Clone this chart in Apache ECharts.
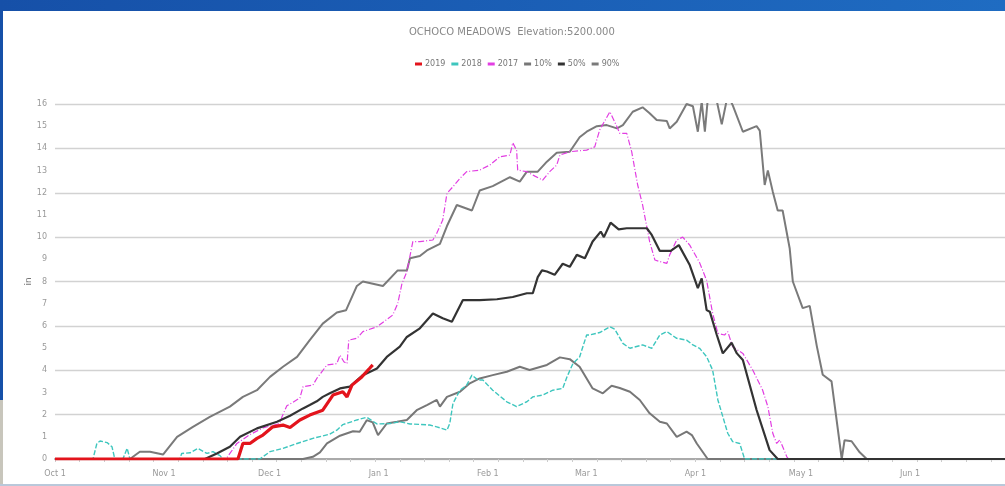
<!DOCTYPE html>
<html>
<head>
<meta charset="utf-8">
<script src="https://cdn.jsdelivr.net/npm/echarts@6/dist/echarts.min.js"></script>
<style>
  html, body { margin: 0; padding: 0; width: 1005px; height: 486px; overflow: hidden; }
  body { background: linear-gradient(90deg, #1650a8, #1f6cc2); position: relative; }
  #leftEdge { position: absolute; left: 0; top: 400px; width: 3px; height: 86px; background: #c8c6bc; }
  #panel { position: absolute; left: 3px; top: 11px; width: 1002px; height: 473px; background: #ffffff; }
  #bottom { position: absolute; left: 0; top: 484px; width: 1005px; height: 2px; background: #b9c8da; }
  #chart { position: absolute; left: 0; top: 0; width: 1005px; height: 486px; }
</style>
</head>
<body>
<div id="leftEdge"></div>
<div id="panel"></div>
<div id="bottom"></div>
<div id="chart"></div>
<script>
// x = day of water year (0 = Oct 1), y = snow water equivalent (in)
const monthStarts = [0, 31, 61, 92, 123, 151, 182, 212, 243];
const monthLabels = ['Oct 1', 'Nov 1', 'Dec 1', 'Jan 1', 'Feb 1', 'Mar 1', 'Apr 1', 'May 1', 'Jun 1'];
const yTicks = [0,1,2,3,4,5,6,7,8,9,10,11,12,13,14,15,16];
const seriesNames = ['2019', '2018', '2017', '10%', '50%', '90%'];

const s2019 = [[0,0],[52,0],[53.4,0.7],[55.4,0.7],[57.4,0.93],[59.1,1.08],[61.9,1.45],[64.8,1.53],[66.8,1.42],[69.6,1.76],[72.4,1.98],[76.1,2.2],[79,2.88],[81.8,3.03],[83,2.8],[84.4,3.33],[87.2,3.7],[89.5,4.1],[90.3,4.24]];

const s2018 = [[0,0],[10.8,0],[11.9,0.7],[12.8,0.81],[14.8,0.74],[16.2,0.55],[17,0],[19.3,0],[20.5,0.48],[21.3,0],[35.5,0],[36,0.25],[38.4,0.28],[40.6,0.48],[43.2,0.25],[44.9,0.33],[46.9,0.15],[47.7,0],[58.2,0],[61.1,0.33],[64.8,0.48],[68.8,0.7],[73.3,0.93],[78.1,1.12],[80.1,1.3],[81.8,1.55],[85.8,1.76],[88.6,1.88],[91.5,1.58],[95.2,1.6],[98,1.68],[100.9,1.58],[103.7,1.56],[106.5,1.53],[108.5,1.45],[111.4,1.3],[112.2,1.6],[113.1,2.5],[115.1,3.1],[117,3.33],[118.5,3.78],[120.2,3.56],[121.6,3.56],[124.4,3.1],[128.4,2.58],[131.2,2.36],[134.1,2.58],[135.8,2.8],[138.6,2.88],[141.5,3.1],[144.3,3.18],[145.5,3.7],[147.2,4.3],[149.1,4.6],[151.1,5.59],[152,5.59],[154.8,5.7],[157.7,5.96],[159.1,5.85],[161.4,5.21],[163.4,4.99],[167,5.14],[169.6,4.99],[171.9,5.59],[173.9,5.74],[176.7,5.44],[179.5,5.36],[181.3,5.14],[183.2,4.99],[185.2,4.61],[186.9,4.01],[188.4,2.66],[189.8,1.91],[191.2,1.16],[192.6,0.78],[194.6,0.7],[196,0],[270,0]];

const s2017 = [[0,0],[48.6,0],[51.7,0.7],[55.4,1.1],[59.1,1.4],[63.9,1.6],[64.5,1.9],[65.9,2.4],[67.6,2.55],[69.6,2.75],[70.5,3.26],[73.3,3.33],[74.4,3.63],[77.3,4.24],[80.1,4.3],[81,4.68],[82.1,4.38],[83,4.3],[83.5,5.36],[85.8,5.44],[87.5,5.74],[91.5,5.96],[96,6.49],[97.4,7.0],[98.6,7.9],[100,8.44],[101.7,9.8],[103.7,9.8],[107.4,9.87],[108.5,10.17],[110.2,10.77],[111.4,11.97],[113.1,12.27],[115.1,12.65],[117,12.95],[120.7,13.02],[123.6,13.25],[126.4,13.62],[129.3,13.7],[130.1,14.25],[131.2,13.92],[131.5,13.02],[134.1,12.95],[136.4,12.75],[138.6,12.57],[140.6,12.95],[142.6,13.25],[143.5,13.7],[146.3,13.85],[151.1,13.92],[153.4,14.07],[154.8,14.83],[157.7,15.65],[159.7,14.98],[160.5,14.68],[162.5,14.68],[163.9,13.85],[165.6,12.35],[167,11.45],[169,9.8],[170.5,8.97],[171.9,8.9],[173.9,8.82],[174.7,9.2],[176.7,9.87],[178.4,10.0],[180.4,9.64],[183.2,8.85],[185.2,8.05],[186.9,6.57],[188.4,5.66],[190.3,5.59],[191.2,5.74],[192.6,5.06],[195.5,4.76],[198.3,4.01],[201.1,3.11],[202.6,2.36],[204,1.16],[205.1,0.7],[206,0.86],[208,0.1],[208.5,0],[270,0]];

const s10 = [[0,0],[70.5,0],[73.3,0.1],[75.3,0.3],[77.3,0.7],[81,1.05],[84.7,1.25],[86.6,1.23],[88.6,1.75],[90.3,1.65],[91.8,1.08],[94.3,1.6],[97.2,1.68],[100,1.76],[102.8,2.2],[105.7,2.43],[108.5,2.66],[109.4,2.36],[111.4,2.8],[115.1,3.03],[117.9,3.41],[120.7,3.63],[124.4,3.78],[128.4,3.93],[132.1,4.16],[134.9,4.01],[139.8,4.24],[143.5,4.58],[146.3,4.5],[149.1,4.16],[152.8,3.18],[155.7,2.96],[158.2,3.3],[160.5,3.2],[163.4,3.03],[166.2,2.66],[169,2.06],[171.9,1.68],[173.9,1.6],[176.7,1.0],[179.5,1.23],[181,1.08],[182.4,0.7],[185.5,0],[270,0]];

const s50 = [[0,0],[42.6,0],[46,0.25],[49.7,0.55],[52.6,1.0],[57.4,1.38],[63.1,1.68],[66.8,1.95],[70.5,2.28],[72.4,2.43],[74.4,2.6],[76.1,2.8],[78.1,2.96],[81,3.18],[83.8,3.26],[87.5,3.78],[91.5,4.08],[94.3,4.6],[98,5.06],[100,5.5],[103.7,5.89],[107.4,6.56],[110.2,6.34],[112.8,6.19],[115.9,7.16],[120.7,7.16],[125.6,7.2],[130.1,7.3],[134.1,7.47],[135.8,7.47],[137.2,8.2],[138.4,8.5],[139.8,8.45],[142,8.3],[144.3,8.8],[146.3,8.66],[148.3,9.2],[150.6,9.05],[152.8,9.8],[155.1,10.25],[156,10.0],[157.9,10.65],[160.2,10.35],[162.5,10.4],[168.2,10.4],[169.6,10.1],[171.9,9.38],[175,9.38],[177.3,9.64],[180.4,8.74],[182.7,7.7],[183.8,8.14],[185.2,6.71],[186.1,6.64],[188.1,5.59],[189.8,4.76],[192.3,5.24],[193.8,4.76],[195.5,4.46],[199.4,2.21],[203.1,0.4],[205.4,0],[270,0]];

const s90 = [[0,0],[21.3,0],[24.1,0.33],[27,0.33],[30.7,0.2],[34.7,1.0],[39.2,1.45],[44,1.9],[49.7,2.36],[53.4,2.8],[57.4,3.1],[61.1,3.7],[64.8,4.16],[68.8,4.6],[72.4,5.36],[76.1,6.1],[80.1,6.6],[82.7,6.7],[85.8,7.8],[87.5,8.0],[93.2,7.8],[97.4,8.5],[100,8.5],[100.9,9.05],[103.7,9.15],[105.7,9.4],[109.4,9.7],[111.4,10.5],[114.2,11.45],[118.5,11.2],[120.7,12.1],[124.4,12.3],[129.3,12.7],[132.1,12.5],[134.1,12.95],[137.2,12.95],[139.8,13.4],[142.6,13.8],[146.3,13.85],[149.1,14.5],[151.1,14.75],[154,15.0],[156.8,15.05],[159.7,14.9],[161.4,15.05],[164.2,15.65],[167,15.85],[169,15.58],[171,15.28],[173.9,15.23],[174.7,14.9],[176.7,15.2],[179.5,16.0],[181.3,15.9],[182.7,14.75],[183.8,16.1],[184.7,14.75],[185.5,16.18],[188,16.2],[189.5,15.08],[191.2,16.4],[192.6,15.95],[195.5,14.75],[199.4,15.0],[200.3,14.8],[201.7,12.35],[202.6,13.0],[204,12.05],[205.4,11.2],[206.8,11.2],[208.8,9.5],[209.7,8.0],[212.5,6.8],[214.5,6.9],[216.5,5.1],[218.2,3.8],[220.7,3.5],[223.6,0],[224.4,0.85],[226.4,0.8],[228.7,0.3],[230.7,0],[270,0]];

const weekTicks = [];
for (let d = 0; d <= 270; d += 7) weekTicks.push(d);

const FONT = 'DejaVu Sans';
const chart = echarts.init(document.getElementById('chart'), null, { renderer: 'canvas' });

function line(name, data, color, width, type, z) {
  return {
    name: name, type: 'line', data: data, showSymbol: false, symbol: 'none',
    z: z, itemStyle: { color: color },
    lineStyle: { color: color, width: width, type: type },
    emphasis: { disabled: true }
  };
}

chart.setOption({
  animation: false,
  backgroundColor: 'transparent',
  title: {
    text: 'OCHOCO MEADOWS  Elevation:5200.000',
    left: 404, top: 22,
    textStyle: { fontFamily: FONT, fontSize: 10, fontWeight: 'normal', color: '#888' }
  },
  legend: {
    data: seriesNames,
    left: 410, top: 55,
    icon: 'rect', itemWidth: 7, itemHeight: 3, itemGap: 6,
    textStyle: { fontFamily: FONT, fontSize: 8, color: '#777', padding: [0, 0, 0, -2] }
  },
  grid: { left: 55, right: 0, top: 104, bottom: 27, containLabel: false },
  xAxis: {
    type: 'value', min: 0, max: 270, offset: 6,
    axisLine: { show: true, lineStyle: { color: '#aaa', width: 2 } },
    axisTick: { show: true, customValues: weekTicks, length: 3, lineStyle: { color: '#ccc' } },
    axisLabel: {
      customValues: monthStarts,
      formatter: function (v) { const i = monthStarts.indexOf(v); return i >= 0 ? monthLabels[i] : ''; },
      fontFamily: FONT, fontSize: 8, color: '#999', margin: 5
    },
    splitLine: { show: false }
  },
  yAxis: [
    {
      type: 'value', min: 0, max: 16, interval: 1,
      name: 'in', nameLocation: 'middle', nameGap: 22, nameRotate: 90, nameMoveOverlap: false,
      nameTextStyle: { fontFamily: FONT, fontSize: 9, color: '#777' },
      axisLine: { show: false }, axisTick: { show: false },
      axisLabel: { fontFamily: FONT, fontSize: 8, color: '#999', margin: 8,
        formatter: function (v) { return yTicks.indexOf(v) >= 0 ? String(v) : ''; } },
      splitLine: { show: false }
    },
    {
      type: 'value', min: 0, max: 16, interval: 2, position: 'left',
      axisLine: { show: false }, axisTick: { show: false }, axisLabel: { show: false },
      splitLine: { show: true, lineStyle: { color: '#d2d2d2', width: 1.3 } }
    }
  ],
  series: [
    line('2019', s2019, '#e3141c', 3.2, 'solid', 9),
    line('2018', s2018, '#3ec6be', 1.4, [5, 2], 4),
    line('2017', s2017, '#e23ee2', 1.2, [6, 2, 1, 2], 5),
    line('10%', s10, '#777777', 2, 'solid', 3),
    line('50%', s50, '#333333', 2.2, 'solid', 6),
    line('90%', s90, '#7a7a7a', 2, 'solid', 2)
  ]
});
</script>
</body>
</html>
